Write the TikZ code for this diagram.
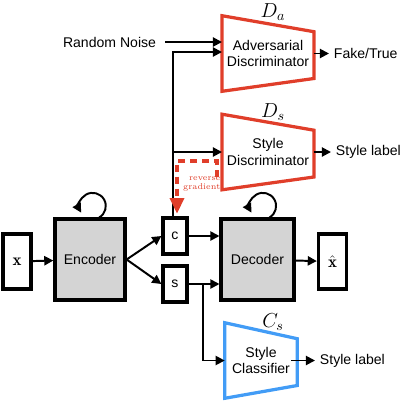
\documentclass[tikz,border=0pt]{standalone}
\usepackage{amsmath}
\usepackage{fontspec}
\setsansfont{Liberation Sans}
\usetikzlibrary{arrows.meta, positioning, calc}
\definecolor{discred}{RGB}{224,62,42}
\definecolor{clsblue}{RGB}{66,156,246}
\definecolor{boxgray}{RGB}{212,212,212}
\tikzstyle{block} = [rectangle, draw, line width=2.3pt, text centered,
                     font=\sffamily\fontsize{10}{12}\selectfont]
\tikzstyle{coder} = [block, fill=boxgray, minimum width=1.75cm,
                     minimum height=2.02cm]
\tikzstyle{var} = [block, minimum width=0.6cm, minimum height=0.9cm]
\tikzstyle{io} = [block, minimum width=0.7cm, minimum height=1.37cm,
                  font=\large]
\tikzstyle{trapbox} = [rectangle, align=center, minimum height=1.875cm,
                       font=\sffamily\fontsize{10}{12}\selectfont]
\tikzstyle{outtext} = [font=\sffamily\fontsize{10}{12}\selectfont]
\tikzstyle{arrow} = [line width=1.4pt, -{Triangle[length=6.5pt,width=6.5pt]}]
\tikzstyle{revgrad} = [discred, line width=2.4pt, dash pattern=on 5pt off 3.5pt,
                       -{Triangle[length=11pt,width=10pt]}]
% trapezoid round an (invisible) node: #1 node, #2 colour
\newcommand{\drawtrap}[2]{
  \draw[line width=2.3pt, #2] (#1.north west)
    -- ($(#1.north east)+(0,-0.4cm)$) -- ($(#1.south east)+(0,0.32cm)$)
    -- (#1.south west) -- cycle;}

\begin{document}
\begin{tikzpicture}[x=0.025cm, y=-0.025cm]
\useasboundingbox (0,0) rectangle (407,404);
% discriminators and classifier
\node [trapbox, minimum width=2.25cm] at (268,53.5) (adv)
	{Adversarial\\Discriminator};
\node [trapbox, minimum width=2.25cm] at (268,152) (sdisc)
	{Style\\Discriminator};
\node [trapbox, minimum width=1.8cm] at (261,360.5) (cls)
	{Style\\Classifier};
\drawtrap{adv}{discred}
\drawtrap{sdisc}{discred}
\drawtrap{cls}{clsblue}
\node [font=\Large] at (273,12) (da) {$D_a$};
\node [font=\Large] at (273,112) (ds) {$D_s$};
\node [font=\Large] at (273,322) (cs) {$C_s$};
% main path
\node [io] at (17,261.5) (x) {$\mathbf{x}$};
\node [coder] at (90,259.5) (enc) {Encoder};
\node [var] at (175,236) (c) {c};
\node [var] at (175,284) (s) {s};
\node [coder, minimum width=1.82cm] at (257.5,259.5) (dec) {Decoder};
\node [io] at (332.5,261.5) (xhat) {$\hat{\mathbf{x}}$};
% texts
\node [outtext, anchor=east] at (161,42) (noise) {Random Noise};
\node [outtext, anchor=west] at (329,53.5) (fake) {Fake/True};
\node [outtext, anchor=west] at (331,152) (slabel) {Style label};
\node [outtext, anchor=west] at (315,360.5) (clabel) {Style label};
\node [discred, font=\fontsize{6}{7}\selectfont, align=right, anchor=east,
	inner sep=1pt] at (222,184) (rgtext) {reverse\\gradient};
\coordinate (cup) at (173,52);
\coordinate (sjoin) at (203,0);
\coordinate (rgstart) at (217,177);
\coordinate (rgcorner) at (177,161);
\draw [arrow] (x) -- (enc);
\draw [arrow] (enc.east) -- (c.west);
\draw [arrow] (enc.east) -- (s.west);
\draw [arrow] (c.east) -- (c.east -| dec.west);
\draw [arrow] (s.east) -- (s.east -| dec.west);
\draw [arrow] (dec) -- (xhat);
\draw [arrow] (s.east -| sjoin) |- (cls.west);
\draw [arrow] ([xshift=0.1cm]noise.east) -- (noise.east -| adv.west);
\draw [arrow] (c.north -| cup) -- (cup) -- (cup -| adv.west);
\draw [arrow] (cup |- sdisc.west) -- (sdisc.west);
\draw [arrow] (adv.east) -- (fake);
\draw [arrow] (sdisc.east) -- (slabel);
\draw [arrow] ([xshift=-0.15cm]cls.east) -- (clabel);
\draw [revgrad] (rgstart) |- (rgcorner) -- ([yshift=2pt]c.north -| rgcorner);
% loops
\draw [arrow] ([xshift=0.23cm]enc.north) arc[start angle=-60, end angle=210,
	radius=0.33cm];
\draw [arrow] ([xshift=0.3cm]dec.north) arc[start angle=-60, end angle=210,
	radius=0.33cm];
\end{tikzpicture}
\end{document}
